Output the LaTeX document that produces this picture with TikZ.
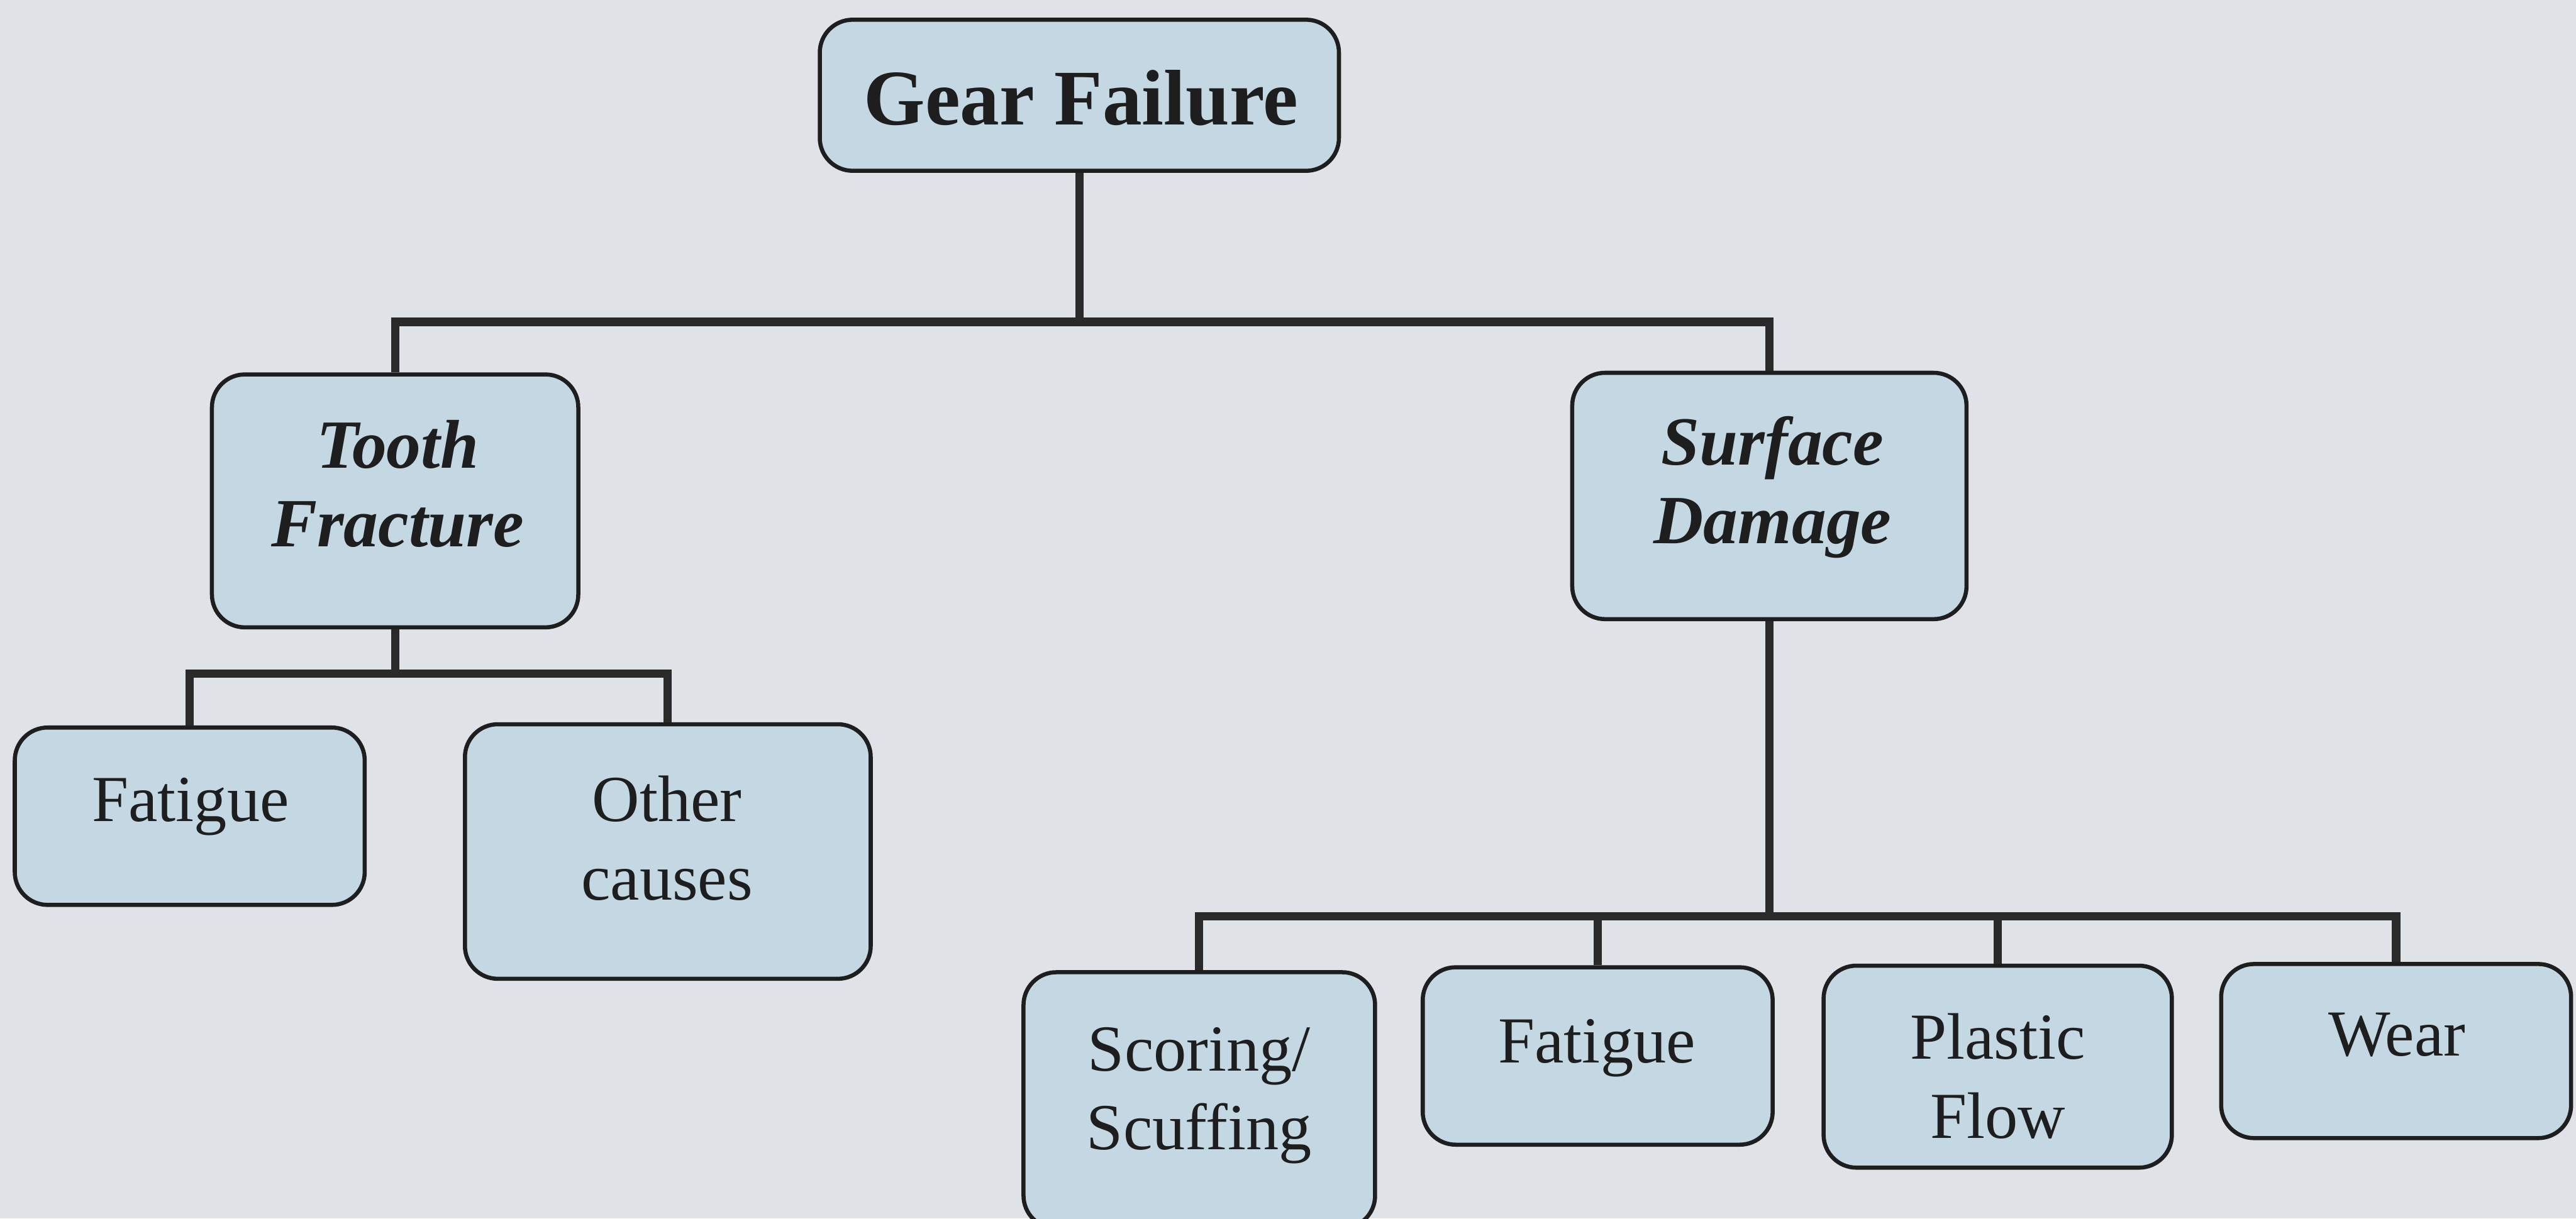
\documentclass[tikz,border=0pt]{standalone}
\usepackage{fontspec}
\setmainfont{Liberation Serif}
\definecolor{bg}{HTML}{DFE2E7}
\definecolor{boxfill}{HTML}{C3D8E2}
\definecolor{ink}{HTML}{1E1E1E}
\definecolor{wire}{HTML}{2A2A2A}
\tikzset{
  box/.style={draw=ink, line width=2.5pt, fill=boxfill, rounded corners=20pt, inner sep=0pt},
  conn/.style={draw=wire, line width=5pt, line join=miter},
  toptxt/.style={font=\fontsize{48}{56}\selectfont\bfseries, text=ink, inner sep=0pt},
  midtxt/.style={font=\fontsize{42}{48}\selectfont\bfseries\itshape, text=ink, align=center, inner sep=0pt},
  leaftxt/.style={font=\fontsize{40}{48}\selectfont, text=ink, align=center, inner sep=0pt}
}
\begin{document}
\begin{tikzpicture}[x=1pt,y=-1pt]
\fill[bg] (0,0) rectangle (1568,742);
\useasboundingbox (0,0) rectangle (1568,742);
% boxes
\node[box, minimum width=316pt, minimum height=92pt] (gf) at (657,58) {};
\node[box, minimum width=223pt, minimum height=154pt] (tf) at (240.5,305) {};
\node[box, minimum width=240pt, minimum height=150pt] (sd) at (1077,302) {};
\node[box, minimum width=213pt, minimum height=108pt] (f1) at (115.5,497) {};
\node[box, minimum width=247pt, minimum height=155pt] (oc) at (406.5,518.5) {};
\node[box, minimum width=214pt, minimum height=156pt] (ss) at (730,670) {};
\node[box, minimum width=213pt, minimum height=108pt] (f2) at (972.5,643) {};
\node[box, minimum width=212pt, minimum height=123pt] (pf) at (1216,649.5) {};
\node[box, minimum width=213pt, minimum height=106pt] (w) at (1458.5,640) {};
% bus coordinates
\coordinate (b1) at (gf.south |- 0,196);
\coordinate (b2) at (tf.south |- 0,410);
\coordinate (b3) at (sd.south |- 0,558);
% connectors
\draw[conn] (gf.south) -- (b1);
\draw[conn] (b1) -| (tf.north);
\draw[conn] (b1) -| (sd.north);
\draw[conn] (tf.south) -- (b2);
\draw[conn] (b2) -| (f1.north);
\draw[conn] (b2) -| (oc.north);
\draw[conn] (sd.south) -- (b3);
\draw[conn] (b3) -| (ss.north);
\draw[conn] (b3) -| (f2.north);
\draw[conn] (b3) -| (pf.north);
\draw[conn] (b3) -| (w.north);
% texts (base anchor = baseline of last line)
\node[toptxt, anchor=base] (gft) at (658,76) {Gear Failure};
\node[midtxt, anchor=base] (tft) at (242,333) {Tooth\\Fracture};
\node[midtxt, anchor=base] (sdt) at (1079,331) {Surface\\Damage};
\node[leaftxt, anchor=base] (f1t) at (116,500) {Fatigue};
\node[leaftxt, anchor=base] (oct) at (406,548) {Other\\causes};
\node[leaftxt, anchor=base] (sst) at (730,700) {Scoring/\\Scuffing};
\node[leaftxt, anchor=base] (f2t) at (972,647) {Fatigue};
\node[leaftxt, anchor=base] (pft) at (1216,693) {Plastic\\Flow};
\node[leaftxt, anchor=base] (wt) at (1459,643) {Wear};
\end{tikzpicture}
\end{document}
